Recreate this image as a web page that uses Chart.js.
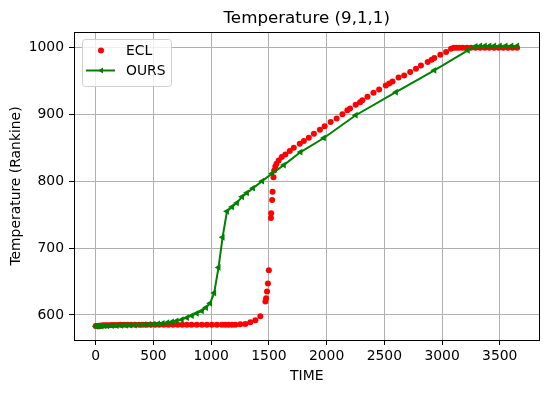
<!DOCTYPE html>
<html>
<head>
<meta charset="utf-8">
<script src="https://cdn.jsdelivr.net/npm/chart.js@4"></script>
<style>
  html, body { margin: 0; padding: 0; background: #fff; }
  #wrap { width: 549px; height: 393px; }
</style>
</head>
<body>
<div id="wrap"><canvas id="tempChart" width="549" height="393"></canvas></div>
<script>
// Datos
const chartTitle = 'Temperature (9,1,1)';
const xTicks = [0, 500, 1000, 1500, 2000, 2500, 3000, 3500];
const yTicks = [600, 700, 800, 900, 1000];

// Serie ECL (puntos rojos)
const eclTime = [0, 8, 16, 25, 35, 45, 55, 70, 90, 110, 135, 160, 185, 215, 245, 275, 305, 340, 375, 410,
  445, 480, 515, 550, 590, 630, 670, 710, 750, 790, 830, 875, 919, 963, 1006, 1050, 1093, 1122, 1150, 1180,
  1209, 1252, 1296, 1339, 1383, 1426, 1470, 1476, 1484, 1492, 1500, 1518, 1520, 1528, 1532, 1540, 1546,
  1556, 1566, 1585, 1612, 1643, 1681, 1716, 1768, 1803, 1846, 1890, 1942, 1983, 2035, 2087, 2137, 2180,
  2203, 2252, 2290, 2310, 2354, 2406, 2455, 2513, 2542, 2571, 2623, 2672, 2724, 2774, 2817, 2876, 2910,
  2933, 2985, 3035, 3078, 3102, 3125, 3150, 3180, 3215, 3250, 3290, 3330, 3370, 3410, 3450, 3490, 3530,
  3570, 3610, 3650];
const eclTemp = [583.5, 583.5, 583.5, 583.8, 584, 584, 584.2, 584.5, 584.5, 584.8, 585, 585, 585.2, 585.3, 585.5, 585.5, 585.5, 585.5, 585.5, 585.5,
  585.5, 585.5, 585.5, 585.5, 585.5, 585.5, 585.5, 585.5, 585.5, 585.5, 585.5, 585.5, 585.5, 585.5, 585.5, 585.5, 585.5, 585.5, 585.5, 585.5,
  585.5, 586, 586.5, 589, 592, 598, 620, 625, 635, 647, 667, 745, 752, 772, 784, 806, 816,
  822, 826, 831, 836, 840, 845, 850, 856, 860, 865, 871, 877, 882, 888.5, 893.5, 900, 906,
  908.5, 914, 918, 921, 926, 932, 937, 943, 946, 949, 955, 958, 963, 968, 973, 978, 981.5,
  984, 989, 993, 998, 999.5, 999.5, 999.5, 999.5, 999.5, 999.5, 999.5, 999.5, 999.5, 999.5, 999.5, 999.5, 999.5,
  999.5, 999.5, 999.5];

// Serie OURS (línea verde con marcadores)
const oursTime = [0, 15, 30, 50, 75, 100, 140, 180, 220, 260, 300, 340, 380, 420, 460, 500, 540, 580,
  620, 660, 700, 745, 790, 832, 875, 919, 955, 991, 1026, 1064, 1099, 1137, 1180, 1223, 1267, 1310, 1362,
  1441, 1528, 1629, 1774, 1976, 2252, 2600, 2933, 3223, 3290, 3330, 3370, 3410, 3450, 3500, 3550, 3600, 3650];
const oursTemp = [583, 583, 583.2, 583.4, 583.6, 583.8, 584, 584.2, 584.4, 584.6, 584.8, 585, 585.2, 585.5, 585.8, 586.2, 586.8, 587.5,
  588.5, 589.5, 591, 593, 596, 599, 602.5, 606, 611, 617.5, 633, 671, 716, 755, 761.5, 767.5, 776.5, 782.5, 789.5,
  800, 811.5, 824, 843.5, 864.5, 898.5, 933, 965.7, 995.5, 1001.5, 1002, 1002, 1002, 1002, 1002, 1002, 1002, 1002];

const FONT = 'DejaVu Sans';
const aPuntos = (xs, ys) => xs.map((x, i) => ({ x: x, y: ys[i] }));

// Marco, título y leyenda estilo matplotlib
const decoracion = {
  id: 'decoracion',
  afterDraw(chart) {
    const ctx = chart.ctx;
    const a = chart.chartArea;
    ctx.save();
    ctx.strokeStyle = '#000';
    ctx.lineWidth = 1;
    ctx.strokeRect(Math.round(a.left) + 0.5, Math.round(a.top) + 0.5,
      Math.round(a.right - a.left) - 1, Math.round(a.bottom - a.top));

    ctx.fillStyle = '#000';
    ctx.font = '16.7px "' + FONT + '"';
    ctx.textAlign = 'center';
    ctx.textBaseline = 'middle';
    ctx.fillText(chartTitle, (a.left + a.right) / 2, 18.5);

    // Leyenda
    const lx = a.left + 8, ly = a.top + 7, lw = 89, lh = 47;
    ctx.beginPath();
    ctx.roundRect(lx + 0.5, ly + 0.5, lw, lh, 3);
    ctx.fillStyle = 'rgba(255,255,255,0.8)';
    ctx.fill();
    ctx.strokeStyle = '#d0d0d0';
    ctx.stroke();

    ctx.fillStyle = '#ff0000';
    ctx.beginPath();
    ctx.arc(lx + 19, ly + 11.5, 3, 0, Math.PI * 2);
    ctx.fill();

    ctx.strokeStyle = '#008000';
    ctx.lineWidth = 2;
    ctx.beginPath();
    ctx.moveTo(lx + 4, ly + 31.5);
    ctx.lineTo(lx + 33, ly + 31.5);
    ctx.stroke();
    ctx.fillStyle = '#008000';
    ctx.beginPath();
    ctx.moveTo(lx + 16, ly + 31.5);
    ctx.lineTo(lx + 21, ly + 28.5);
    ctx.lineTo(lx + 21, ly + 34.5);
    ctx.closePath();
    ctx.fill();

    ctx.fillStyle = '#000';
    ctx.font = '13.9px "' + FONT + '"';
    ctx.textAlign = 'left';
    ctx.fillText('ECL', lx + 44, ly + 12);
    ctx.fillText('OURS', lx + 44, ly + 32);
    ctx.restore();
  }
};

const sinFormato = v => String(v);

const ctx = document.getElementById('tempChart').getContext('2d');
new Chart(ctx, {
  type: 'scatter',
  data: {
    datasets: [{
      label: 'ECL',
      data: aPuntos(eclTime, eclTemp),
      order: 1,
      showLine: false,
      backgroundColor: '#ff0000',
      borderColor: '#ff0000',
      pointRadius: 3,
      pointBorderWidth: 0
    }, {
      label: 'OURS',
      data: aPuntos(oursTime, oursTemp),
      order: 0,
      showLine: true,
      borderColor: '#008000',
      backgroundColor: '#008000',
      borderWidth: 2,
      tension: 0,
      pointStyle: 'triangle',
      rotation: -90,
      pointRadius: 3.9,
      pointBorderWidth: 0
    }]
  },
  options: {
    responsive: false,
    animation: false,
    devicePixelRatio: 1,
    layout: { padding: { top: 32, right: 9.5, left: 0, bottom: 0 } },
    plugins: {
      legend: { display: false },
      tooltip: { enabled: false },
      title: { display: false }
    },
    scales: {
      x: {
        type: 'linear',
        min: -188,
        max: 3844,
        afterBuildTicks: s => { s.ticks = xTicks.map(v => ({ value: v })); },
        afterFit: s => { s.height = 53; },
        border: { display: false },
        grid: { color: '#b0b0b0', lineWidth: 1, tickColor: '#000', tickLength: 5, drawTicks: true },
        ticks: { color: '#000', padding: 3, maxRotation: 0, callback: sinFormato, font: { family: FONT, size: 13.9 } },
        title: { display: true, text: 'TIME', color: '#000', padding: { top: 0, bottom: 8 }, font: { family: FONT, size: 13.9 } }
      },
      y: {
        type: 'linear',
        min: 562.6,
        max: 1022.9,
        afterBuildTicks: s => { s.ticks = yTicks.map(v => ({ value: v })); },
        afterFit: s => { s.width = 74; },
        border: { display: false },
        grid: { color: '#b0b0b0', lineWidth: 1, tickColor: '#000', tickLength: 5, drawTicks: true },
        ticks: { color: '#000', padding: 5, callback: sinFormato, font: { family: FONT, size: 13.9 } },
        title: { display: true, text: 'Temperature (Rankine)', color: '#000', padding: { top: 8, bottom: 0 }, font: { family: FONT, size: 13.9 } }
      }
    }
  },
  plugins: [decoracion]
});
</script>
</body>
</html>
